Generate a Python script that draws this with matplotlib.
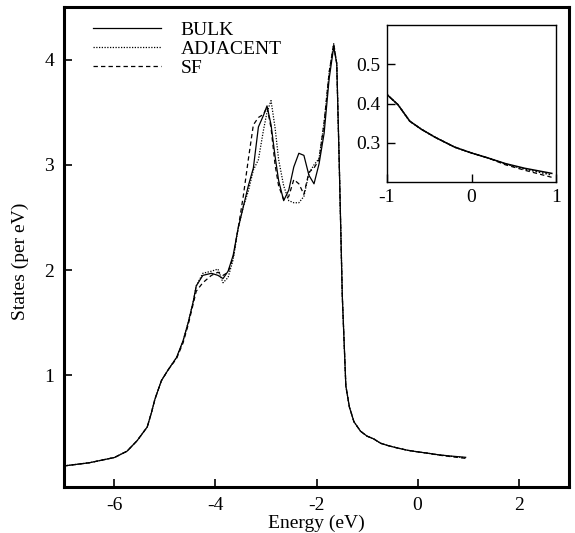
import matplotlib
matplotlib.use("Agg")
import matplotlib.pyplot as plt

plt.rcParams['font.family'] = ['Liberation Serif', 'DejaVu Serif']
plt.rcParams['axes.unicode_minus'] = False

energy = [-7.0, -6.5, -6.0, -5.75, -5.55, -5.35, -5.27, -5.2, -5.07, -4.94,
          -4.77, -4.64, -4.54, -4.44, -4.38, -4.25, -4.08, -3.95, -3.85, -3.75,
          -3.65, -3.55, -3.45, -3.35, -3.25, -3.15, -3.05, -2.98, -2.9, -2.82,
          -2.75, -2.65, -2.55, -2.45, -2.35, -2.25, -2.15, -2.05, -1.95, -1.85,
          -1.75, -1.66, -1.6, -1.55, -1.49, -1.42, -1.35, -1.26, -1.13, -1.0,
          -0.87, -0.73, -0.59, -0.43, -0.2, 0.0, 0.2, 0.4, 0.63, 0.95]

bulk = [0.14, 0.17, 0.22, 0.28, 0.38, 0.51, 0.64, 0.77, 0.95, 1.05,
        1.17, 1.33, 1.50, 1.70, 1.85, 1.95, 1.97, 1.95, 1.92, 1.99,
        2.14, 2.40, 2.60, 2.80, 2.97, 3.36, 3.47, 3.56, 3.38, 3.08,
        2.85, 2.66, 2.76, 2.98, 3.11, 3.09, 2.90, 2.82, 3.01, 3.30,
        3.82, 4.12, 3.96, 3.00, 1.75, 0.90, 0.70, 0.56, 0.47, 0.423,
        0.397, 0.355, 0.334, 0.314, 0.289, 0.274, 0.261, 0.247, 0.235, 0.222]

adjacent = [0.14, 0.17, 0.22, 0.28, 0.38, 0.51, 0.64, 0.77, 0.95, 1.05,
            1.17, 1.33, 1.50, 1.70, 1.85, 1.97, 1.99, 2.01, 1.88, 1.93,
            2.10, 2.40, 2.60, 2.75, 2.95, 3.05, 3.33, 3.50, 3.61, 3.35,
            3.05, 2.80, 2.66, 2.64, 2.64, 2.70, 2.92, 3.00, 3.06, 3.40,
            3.88, 4.15, 3.96, 3.00, 1.75, 0.90, 0.70, 0.56, 0.47, 0.423,
            0.397, 0.355, 0.334, 0.314, 0.289, 0.274, 0.261, 0.246, 0.233, 0.218]

sf = [0.14, 0.17, 0.22, 0.28, 0.38, 0.51, 0.64, 0.77, 0.95, 1.05,
      1.16, 1.31, 1.48, 1.68, 1.80, 1.88, 1.95, 1.98, 1.95, 1.98,
      2.12, 2.40, 2.70, 3.05, 3.38, 3.45, 3.48, 3.55, 3.35, 3.00,
      2.80, 2.67, 2.70, 2.86, 2.82, 2.72, 2.93, 2.97, 3.05, 3.40,
      3.88, 4.15, 3.96, 3.00, 1.75, 0.90, 0.70, 0.56, 0.47, 0.423,
      0.397, 0.355, 0.334, 0.314, 0.289, 0.274, 0.261, 0.244, 0.230, 0.212]

main_xticks = [-6, -4, -2, 0, 2]
main_yticks = [1, 2, 3, 4]
inset_xticks = [-1, 0, 1]
inset_yticks = [0.3, 0.4, 0.5]

fig = plt.figure(figsize=(5.75, 5.33), dpi=100)
ax = fig.add_axes([0.111, 0.0863, 0.879, 0.9007])

styles = dict(color='black', linewidth=0.9)
ax.plot(energy, bulk, linestyle='-', label='BULK', **styles)
ax.plot(energy, adjacent, linestyle=(0, (1, 1.2)), label='ADJACENT', **styles)
ax.plot(energy, sf, linestyle=(0, (3.5, 2.5)), label='SF', **styles)

ax.set_xlim(-7, 3)
ax.set_ylim(-0.06, 4.5)
ax.set_xticks(main_xticks)
ax.set_yticks(main_yticks)
ax.tick_params(direction='in', length=6, width=1.2, labelsize=14, pad=7)
for s in ax.spines.values():
    s.set_linewidth(2.2)
ax.set_xlabel('Energy (eV)', fontsize=14, labelpad=1)
ax.set_ylabel('States (per eV)', fontsize=14)
ax.yaxis.set_label_coords(-0.068, 0.47)

leg = ax.legend(loc='upper left', bbox_to_anchor=(0.035, 0.995), frameon=False,
                fontsize=14, handlelength=3.5, handletextpad=1.0,
                labelspacing=0.08, borderaxespad=0.2)

ins = fig.add_axes([0.673, 0.6585, 0.294, 0.2945])
ins.plot(energy, bulk, linestyle='-', color='black', linewidth=1.1)
ins.plot(energy, adjacent, linestyle=(0, (1, 1.2)), color='black', linewidth=1.1)
ins.plot(energy, sf, linestyle=(0, (3.5, 2.5)), color='black', linewidth=0.9)
ins.set_xlim(-1, 1)
ins.set_ylim(0.2, 0.6)
ins.set_xticks(inset_xticks)
ins.set_yticks(inset_yticks)
ins.set_xticklabels(['-1', '0', '1'])
ins.set_yticklabels(['0.3', '0.4', '0.5'])
ins.tick_params(direction='in', length=6, width=1.0, labelsize=14, pad=5)
for s in ins.spines.values():
    s.set_linewidth(1.0)

fig.savefig('out.png', dpi=100)
